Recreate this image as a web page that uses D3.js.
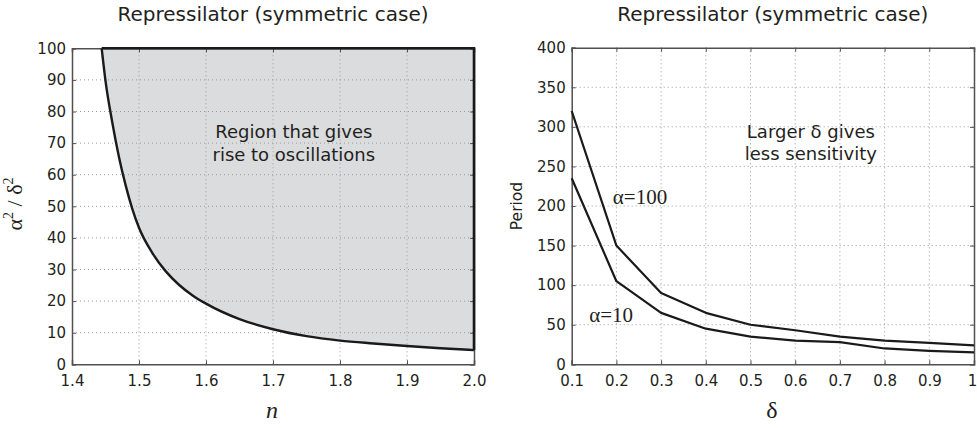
<!DOCTYPE html>
<html><head><meta charset="utf-8">
<script src="https://cdn.jsdelivr.net/npm/d3@7"></script>
<style>
html,body{margin:0;padding:0;background:#fff;}
svg text{fill:#231f20;}
</style></head>
<body>
<svg id="c" width="977" height="428"></svg>
<script>
// ---- data ----
const titles = ["Repressilator (symmetric case)", "Repressilator (symmetric case)"];
// left panel: boundary of oscillation region
const hillN = [1.4443, 1.45, 1.46, 1.47, 1.48, 1.49, 1.50, 1.52, 1.54, 1.56, 1.58, 1.60, 1.65, 1.70, 1.75, 1.80, 1.85, 1.90, 1.95, 2.00];
const ratio = [100, 89.7, 76.7, 65.7, 56.7, 49.2, 43.2, 35.2, 29.4, 25.1, 21.8, 19.2, 14.3, 11.1, 8.9, 7.5, 6.6, 5.8, 5.1, 4.5];
const leftXTicks = [1.4, 1.5, 1.6, 1.7, 1.8, 1.9, 2.0];
const leftXTickLabels = ["1.4", "1.5", "1.6", "1.7", "1.8", "1.9", "2.0"];
const leftYTicks = [0, 10, 20, 30, 40, 50, 60, 70, 80, 90, 100];
const regionText = ["Region that gives", "rise to oscillations"];
// right panel: period vs delta
const delta = [0.1, 0.2, 0.3, 0.4, 0.5, 0.6, 0.7, 0.8, 0.9, 1.0];
const periodA100 = [320, 150, 90, 65, 50, 43, 35, 30, 27, 24];
const periodA10 = [235, 105, 65, 45, 35, 30, 28, 20, 17, 15];
const rightXTicks = [0.1, 0.2, 0.3, 0.4, 0.5, 0.6, 0.7, 0.8, 0.9, 1.0];
const rightXTickLabels = ["0.1", "0.2", "0.3", "0.4", "0.5", "0.6", "0.7", "0.8", "0.9", "1"];
const rightYTicks = [0, 50, 100, 150, 200, 250, 300, 350, 400];
const sensText = ["Larger \u03b4 gives", "less sensitivity"];
const seriesLabels = ["\u03b1=100", "\u03b1=10"];

const svg = d3.select("#c");
const sans = "'DejaVu Sans',sans-serif";
const serif = "'Liberation Serif','Times New Roman',serif";
const frameColor = "#505050";

function panel(g, x, y, xTicks, xLabels, yTicks, title) {
  const [x0, x1] = x.range(), [y0, y1] = y.range();
  g.append("g").selectAll("line").data(xTicks.slice(1, -1)).join("line")
    .attr("x1", d => x(d)).attr("x2", d => x(d)).attr("y1", y0).attr("y2", y1)
    .attr("stroke", "#9a9a9a").attr("stroke-width", 1).attr("stroke-dasharray", "1,3");
  g.append("g").selectAll("line").data(yTicks.slice(1, -1)).join("line")
    .attr("y1", d => y(d)).attr("y2", d => y(d)).attr("x1", x0).attr("x2", x1)
    .attr("stroke", "#9a9a9a").attr("stroke-width", 1).attr("stroke-dasharray", "1,3");
  const ax = g.append("g").attr("transform", `translate(0,${y0})`)
    .call(d3.axisBottom(x).tickValues(xTicks).tickFormat((d, i) => xLabels[i]).tickSize(-4).tickPadding(11.5));
  const ay = g.append("g").attr("transform", `translate(${x0},0)`)
    .call(d3.axisLeft(y).tickValues(yTicks).tickSize(-4).tickPadding(6));
  const at = g.append("g").attr("transform", `translate(0,${y1})`)
    .call(d3.axisTop(x).tickValues(xTicks).tickFormat("").tickSize(-4));
  const ar = g.append("g").attr("transform", `translate(${x1},0)`)
    .call(d3.axisRight(y).tickValues(yTicks).tickFormat("").tickSize(-4));
  [ax, ay, at, ar].forEach(a => {
    a.selectAll("path").attr("stroke", frameColor).attr("stroke-width", 1.5);
    a.selectAll("line").attr("stroke", frameColor).attr("stroke-width", 1);
    a.selectAll("text").attr("font-size", 15).style("font-family", sans).attr("fill", "#231f20");
  });
  g.append("text").attr("x", (x0 + x1) / 2).attr("y", 21).attr("text-anchor", "middle")
    .style("font-family", sans).attr("font-size", 20).text(title);
  return ax;
}

// ---- left panel ----
const xL = d3.scaleLinear().domain([1.4, 2.0]).range([72, 474]);
const yL = d3.scaleLinear().domain([0, 100]).range([364.3, 48.3]);
const gL = svg.append("g");
const pts = hillN.map((n, i) => [n, ratio[i]]);
gL.append("path").datum(pts)
  .attr("d", d3.area().x(d => xL(d[0])).y0(yL(100)).y1(d => yL(d[1])).curve(d3.curveMonotoneX))
  .attr("fill", "#dbdcde");
panel(gL, xL, yL, leftXTicks, leftXTickLabels, leftYTicks, titles[0]);
gL.append("path").datum(pts)
  .attr("d", d3.line().x(d => xL(d[0])).y(d => yL(d[1])).curve(d3.curveMonotoneX))
  .attr("fill", "none").attr("stroke", "#1a1a1a").attr("stroke-width", 2.4);
const lastN = hillN[hillN.length - 1];
gL.append("path").datum([[lastN, ratio[ratio.length - 1]], [lastN, 100], [hillN[0], 100]])
  .attr("d", d3.line().x(d => xL(d[0])).y(d => yL(d[1])))
  .attr("fill", "none").attr("stroke", "#1a1a1a").attr("stroke-width", 2.6);
gL.append("text").attr("text-anchor", "middle").attr("font-size", 18).style("font-family", sans)
  .selectAll("tspan").data(regionText).join("tspan")
  .attr("x", xL(1.731)).attr("y", (d, i) => yL(71.7) + i * 23).text(d => d);
gL.append("text").attr("x", 272).attr("y", 418).attr("text-anchor", "middle")
  .style("font-family", serif).attr("font-style", "italic").attr("font-size", 24).text("n");
const yl = gL.append("text").attr("transform", "translate(22,204) rotate(-90)").attr("text-anchor", "middle")
  .style("font-family", serif).attr("font-size", 22);
yl.append("tspan").text("\u03b1");
yl.append("tspan").attr("font-size", 14).attr("dy", -9).text("2");
yl.append("tspan").attr("dy", 9).text(" / \u03b4");
yl.append("tspan").attr("font-size", 14).attr("dy", -9).text("2");

// ---- right panel ----
const xR = d3.scaleLinear().domain([0.1, 1.0]).range([571.7, 974]);
const yR = d3.scaleLinear().domain([0, 400]).range([364.3, 47.7]);
const gR = svg.append("g");
const axR = panel(gR, xR, yR, rightXTicks, rightXTickLabels, rightYTicks, titles[1]);
axR.selectAll(".tick text").filter((d, i) => i === rightXTicks.length - 1).attr("dx", -2);
const lineR = d3.line().x((d, i) => xR(delta[i])).y(d => yR(d));
[periodA100, periodA10].forEach(s => {
  gR.append("path").datum(s).attr("d", lineR).attr("fill", "none")
    .attr("stroke", "#1a1a1a").attr("stroke-width", 2.2).attr("stroke-linejoin", "round");
});
gR.append("text").attr("text-anchor", "middle").attr("font-size", 18).style("font-family", sans)
  .selectAll("tspan").data(sensText).join("tspan")
  .attr("x", xR(0.635)).attr("y", (d, i) => yR(286) + i * 22).text(d => d);
gR.append("text").attr("x", xR(0.192)).attr("y", yR(202.5)).style("font-family", serif)
  .attr("font-size", 21).text(seriesLabels[0]);
gR.append("text").attr("x", xR(0.139)).attr("y", yR(53.8)).style("font-family", serif)
  .attr("font-size", 21).text(seriesLabels[1]);
gR.append("text").attr("x", 772).attr("y", 418).attr("text-anchor", "middle")
  .style("font-family", serif).attr("font-size", 24).text("\u03b4");
gR.append("text").attr("transform", "translate(522,206) rotate(-90)").attr("text-anchor", "middle")
  .style("font-family", sans).attr("font-size", 15.5).text("Period");
</script>
</body></html>
